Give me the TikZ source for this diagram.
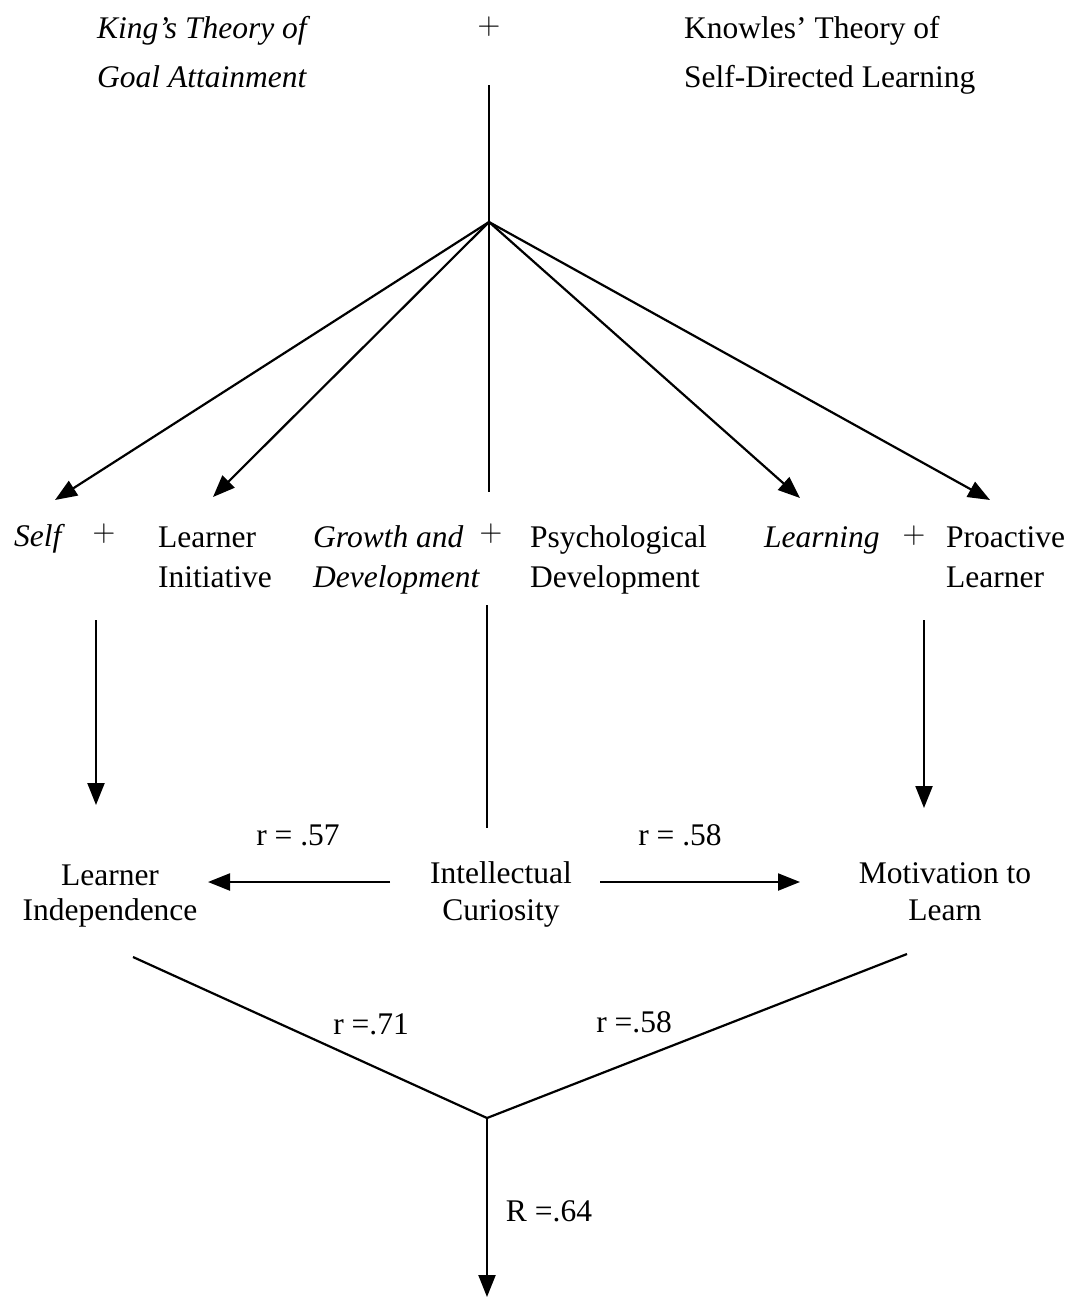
\documentclass[tikz,border=0pt]{standalone}
\usepackage{fontspec}
\setmainfont{Liberation Serif}
\newfontfamily\plusfont{Latin Modern Roman}
\usetikzlibrary{arrows.meta}
\begin{document}
\begin{tikzpicture}[x=1pt,y=-1pt,
  txt/.style={inner sep=0pt, font=\fontsize{31.5}{38}\selectfont, anchor=base west},
  ctxt/.style={txt, anchor=base},
  itxt/.style={txt, font=\fontsize{31.5}{38}\selectfont\itshape},
  plus/.style={ctxt, font=\fontsize{31.5}{38}\selectfont\plusfont},
  link/.style={line width=2.2pt},
  arr/.style={link, -{Triangle[length=22pt,width=17pt]}}]
\fill[white] (0,0) rectangle (1079,1301);
\useasboundingbox (0,0) rectangle (1079,1301);

% the two source theories
\node[itxt] (king1) at (97,38) {King’s Theory of};
\node[itxt] (king2) at (97,87) {Goal Attainment};
\node[plus] (plus0) at (489,34) {+};
\node[txt] (know1) at (684,38) {Knowles’ Theory of};
\node[txt] (know2) at (684,87) {Self-Directed Learning};

\coordinate (top) at (489,85);
\coordinate (hub) at (489,222);
\draw[link] (top) -- (hub);

% branch ends above the concept pairs
\coordinate (tSelf) at (55,500);
\coordinate (tInit) at (213,497);
\coordinate (tMid) at (489,492);
\coordinate (tLearn) at (800,498);
\coordinate (tPro) at (990,500);
\draw[arr] (hub) -- (tSelf);
\draw[arr] (hub) -- (tInit);
\draw[link] (hub) -- (tMid);
\draw[arr] (hub) -- (tLearn);
\draw[arr] (hub) -- (tPro);

% concept pairs
\node[itxt] (self) at (14,546) {Self};
\node[plus] (plus1) at (104,541) {+};
\node[txt] (init1) at (158,547) {Learner};
\node[txt] (init2) at (158,587) {Initiative};
\node[itxt] (grow1) at (313,547) {Growth and};
\node[itxt] (grow2) at (313,587) {Development};
\node[plus] (plus2) at (491,541) {+};
\node[txt] (psy1) at (530,547) {Psychological};
\node[txt] (psy2) at (530,587) {Development};
\node[itxt] (learn) at (764,547) {Learning};
\node[plus] (plus3) at (914,543) {+};
\node[txt] (pro1) at (946,547) {Proactive};
\node[txt] (pro2) at (946,587) {Learner};

% down to the measured variables
\coordinate (sA) at (96,620);  \coordinate (sB) at (96,805);
\coordinate (mA) at (487,605); \coordinate (mB) at (487,828);
\coordinate (pA) at (924,620); \coordinate (pB) at (924,808);
\draw[arr] (sA) -- (sB);
\draw[link] (mA) -- (mB);
\draw[arr] (pA) -- (pB);

\node[ctxt] (r57) at (298,845) {r = .57};
\node[ctxt] (r58a) at (680,845) {r = .58};

\node[ctxt] (ind1) at (110,885) {Learner};
\node[ctxt] (ind2) at (110,920) {Independence};
\node[ctxt] (cur1) at (501,883) {Intellectual};
\node[ctxt] (cur2) at (501,920) {Curiosity};
\node[ctxt] (mot1) at (945,883) {Motivation to};
\node[ctxt] (mot2) at (945,920) {Learn};

\coordinate (cL) at (390,882); \coordinate (iR) at (208,882);
\coordinate (cR) at (600,882); \coordinate (mL) at (800,882);
\draw[arr] (cL) -- (iR);
\draw[arr] (cR) -- (mL);

% combined prediction
\coordinate (iB) at (133,957);
\coordinate (mBt) at (907,954);
\coordinate (join) at (487,1118);
\coordinate (out) at (487,1297);
\draw[link] (iB) -- (join) -- (mBt);
\draw[arr] (join) -- (out);

\node[ctxt] (r71) at (371,1034) {r =.71};
\node[ctxt] (r58b) at (634,1032) {r =.58};
\node[ctxt] (R64) at (549,1221) {R =.64};
\end{tikzpicture}
\end{document}
